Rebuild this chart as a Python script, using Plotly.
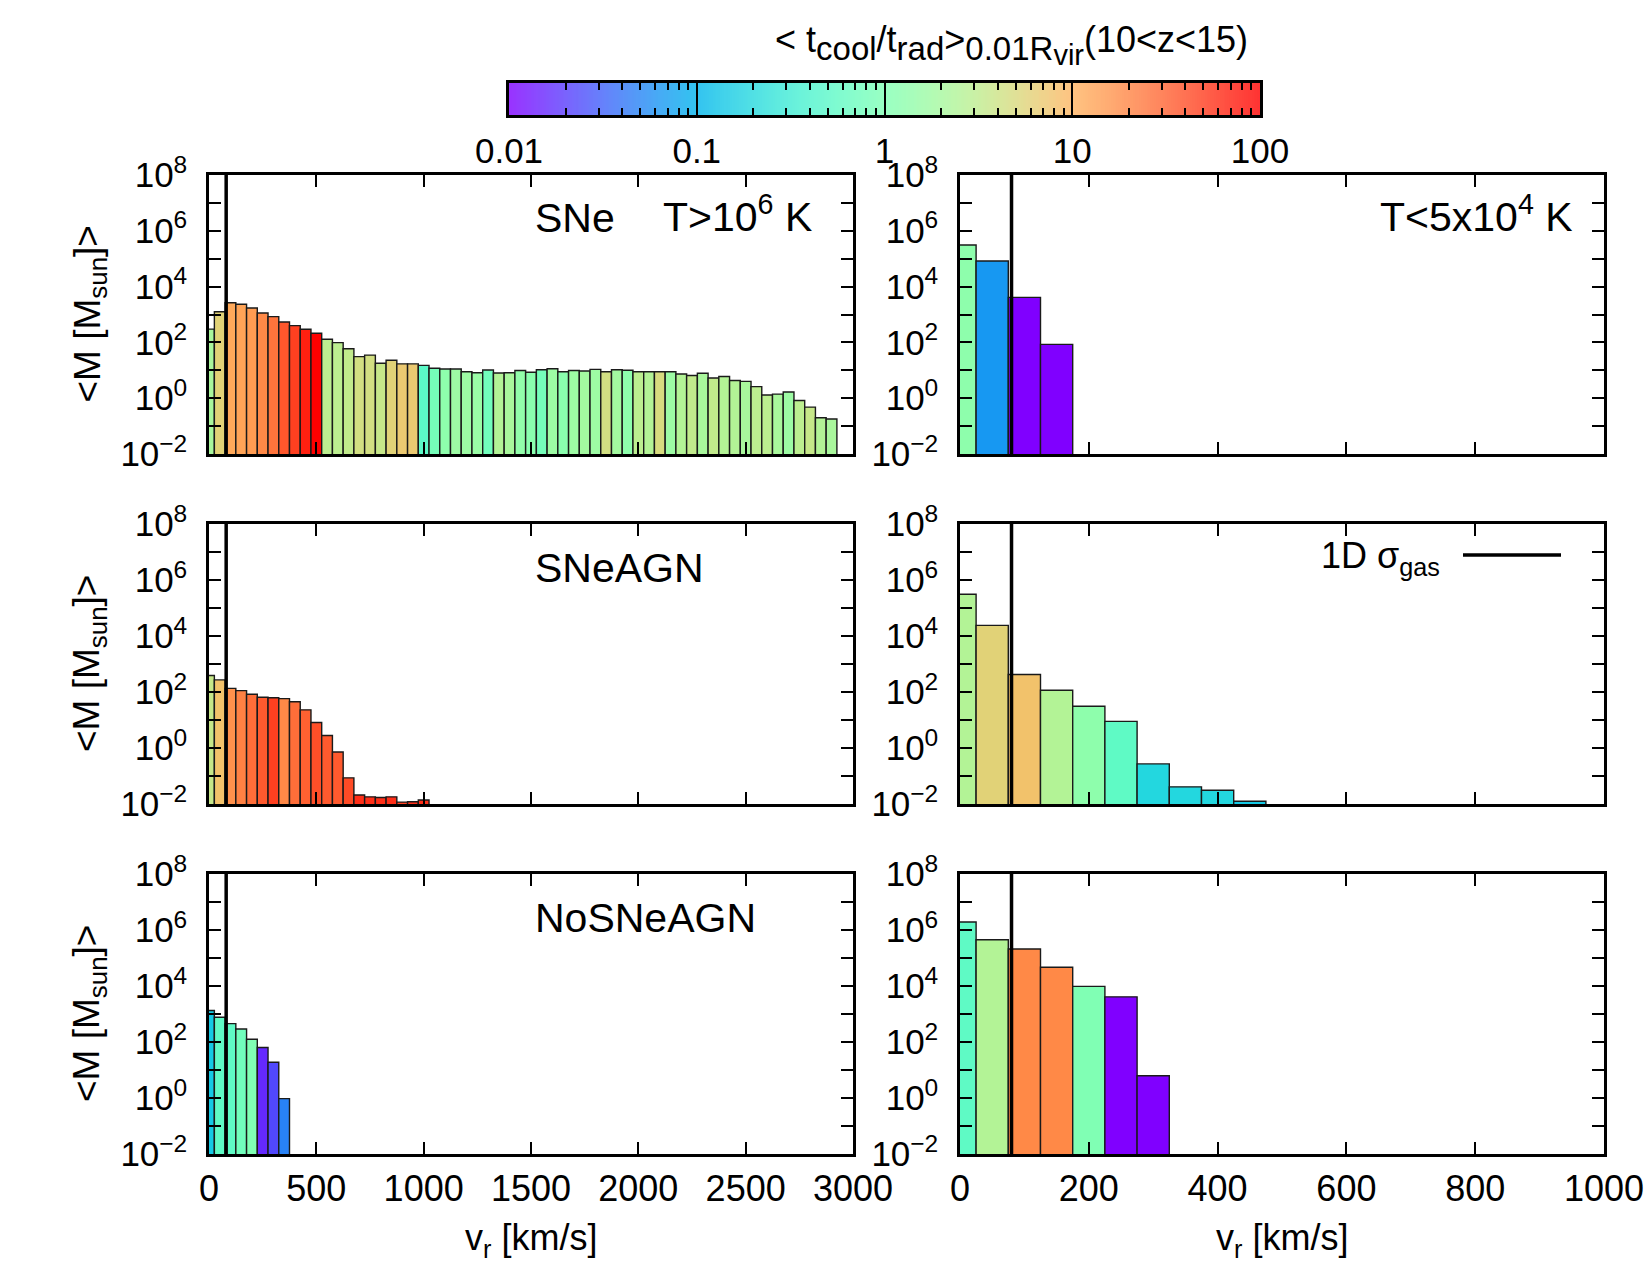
import numpy as np
import plotly.graph_objects as go

# ---------------- data ----------------
bin_width = 50.0          # km/s
sigma_gas = 80.0          # 1D gas velocity dispersion [km/s]

# <M> per v_r bin [Msun], and mean t_cool/t_rad of each bin (colour)
sne_hot_mass = [300, 1260, 2630, 2320, 1710, 1130, 840, 540, 400, 297,
                212, 130, 98, 59, 31, 35, 18, 23, 17, 17,
                15, 11.8, 11.2, 11.2, 8.9, 8.2, 10.2, 8.0, 8.2, 9.8,
                8.5, 10.5, 11.4, 8.9, 9.8, 9.4, 10.8, 8.9, 10.5, 10,
                8.9, 8.9, 8.9, 8.9, 7.4, 6.5, 7.8, 5.3, 6.0, 4.3,
                4.0, 2.6, 1.3, 1.4, 1.67, 0.83, 0.48, 0.20, 0.18]
sne_hot_ratio = [2.1, 5.8, 12, 13, 14.5, 19, 25, 36, 48, 69,
                 100, 3.0, 3.0, 3.3, 4.4, 4.4, 3.6, 5.8, 6.9, 6.9,
                 0.52, 0.83, 1.3, 1.7, 1.7, 1.6, 0.76, 2.5, 2.1, 1.4,
                 1.2, 0.83, 1.7, 1.2, 1.7, 1.9, 1.7, 4.4, 1.9, 1.3,
                 3.0, 2.5, 4.8, 1.7, 2.5, 3.3, 2.1, 3.3, 2.5, 2.5,
                 2.1, 3.0, 3.0, 2.1, 1.7, 3.0, 3.6, 2.5, 2.1]

sne_cold_mass = [3.1e5, 8.3e4, 4.1e3, 85]
sne_cold_ratio = [1.3, 0.065, 0.01, 0.01]

sneagn_hot_mass = [390, 270, 135, 112, 83, 65, 62, 58, 45, 23,
                   8.1, 2.8, 0.72, 0.086, 0.021, 0.018, 0.017, 0.018, 0.0117, 0.012, 0.0139]
sneagn_hot_ratio = [3.6, 7.9, 17, 21, 27, 35, 48, 19, 27, 32,
                    40, 35, 35, 42, 58, 58, 58, 58, 48, 58, 58]

sneagn_cold_mass = [3.1e5, 2.4e4, 420, 115, 31, 8.9, 0.27, 0.041, 0.031, 0.0126]
sneagn_cold_ratio = [2.5, 5.8, 7.9, 2.5, 1.3, 0.56, 0.19, 0.19, 0.19, 0.145]

nosneagn_hot_mass = [1340, 770, 455, 293, 125, 64, 19, 0.95]
nosneagn_hot_ratio = [0.145, 0.56, 0.56, 0.76, 1.0, 0.016, 0.023, 0.048]

nosneagn_cold_mass = [1.94e6, 4.5e5, 2.1e5, 4.7e4, 9.7e3, 4.1e3, 6.2]
nosneagn_cold_ratio = [0.56, 2.5, 19, 19, 1.0, 0.01, 0.01]

run_labels = ["SNe", "SNeAGN", "NoSNeAGN"]
y_tick_exponents = list(range(-2, 9))
left_x_ticks = [0, 500, 1000, 1500, 2000, 2500, 3000]
right_x_ticks = [0, 200, 400, 600, 800, 1000]
cb_major = [0.01, 0.1, 1, 10, 100]
cb_major_labels = ["0.01", "0.1", "1", "10", "100"]

# ---------------- styling ----------------
FONT = "Liberation Sans, Arial, Helvetica, sans-serif"
W, H = 1650, 1275


def rainbow(x):
    r = abs(2 * x - 0.5)
    g = np.sin(np.pi * x)
    b = np.cos(np.pi * x / 2)
    return "rgb(%d,%d,%d)" % (min(255, round(255 * r)), round(255 * max(g, 0)), round(255 * max(b, 0)))


cscale = [[s, rainbow(s)] for s in np.linspace(0, 1, 41)]

xdom = {"L": [209 / W, 853 / W], "R": [960 / W, 1604 / W]}
ydom = [[1 - 454 / H, 1 - 175 / H], [1 - 804 / H, 1 - 524 / H], [1 - 1154 / H, 1 - 874 / H]]

panels = [
    (0, "L", sne_hot_mass, sne_hot_ratio, 3000, left_x_ticks),
    (0, "R", sne_cold_mass, sne_cold_ratio, 1000, right_x_ticks),
    (1, "L", sneagn_hot_mass, sneagn_hot_ratio, 3000, left_x_ticks),
    (1, "R", sneagn_cold_mass, sneagn_cold_ratio, 1000, right_x_ticks),
    (2, "L", nosneagn_hot_mass, nosneagn_hot_ratio, 3000, left_x_ticks),
    (2, "R", nosneagn_cold_mass, nosneagn_cold_ratio, 1000, right_x_ticks),
]

fig = go.Figure()
layout = dict(width=W, height=H, margin=dict(l=0, r=0, t=0, b=0, autoexpand=False),
              paper_bgcolor="white", plot_bgcolor="white",
              font=dict(family=FONT, color="black"), showlegend=False)

ytickvals = [10.0 ** e for e in y_tick_exponents]
yticktext = [("10<sup>%s</sup>" % (str(e).replace("-", "\u2212"))) if e % 2 == 0 else "" for e in y_tick_exponents]

shapes = []
for i, (row, col, mass, ratio, xmax, xt) in enumerate(panels):
    n = i + 1
    xa = "x" if n == 1 else "x%d" % n
    ya = "y" if n == 1 else "y%d" % n
    centers = [k * bin_width for k in range(len(mass))]
    fig.add_trace(go.Bar(
        x=centers, y=mass, width=bin_width, xaxis=xa, yaxis=ya,
        marker=dict(color=np.log10(ratio), colorscale=cscale, cmin=-2, cmax=2,
                    line=dict(color="#1a1a1a", width=1.4)),
        showlegend=False, hoverinfo="x+y"))
    key_x = "xaxis" if n == 1 else "xaxis%d" % n
    key_y = "yaxis" if n == 1 else "yaxis%d" % n
    layout[key_x] = dict(domain=xdom[col], anchor=ya, range=[0, xmax], automargin=False,
                         tickmode="array", tickvals=xt, ticktext=[str(v) for v in xt],
                         showticklabels=(row == 2), ticks="inside", ticklen=12, tickwidth=2,
                         tickcolor="black", showline=True, linecolor="black", linewidth=2.5,
                         mirror="ticks", showgrid=False, zeroline=False,
                         tickfont=dict(size=36, family=FONT), ticklabelstandoff=1)
    layout[key_y] = dict(domain=ydom[row], anchor=xa, type="log", range=[-2, 8], automargin=False,
                         tickmode="array", tickvals=ytickvals, ticktext=yticktext,
                         ticks="inside", ticklen=12, tickwidth=2, tickcolor="black",
                         showline=True, linecolor="black", linewidth=2.5, mirror="ticks",
                         showgrid=False, zeroline=False,
                         tickfont=dict(size=35, family=FONT), ticklabelstandoff=12)
    shapes.append(dict(type="line", xref=xa, yref="%s domain" % ya, x0=sigma_gas, x1=sigma_gas,
                       y0=0, y1=1, line=dict(color="black", width=3.5), layer="above"))

# colour bar drawn as a heatmap strip on its own axes
cb_x = np.linspace(-2, 2, 401)
fig.add_trace(go.Heatmap(x=cb_x, y=[0], z=[cb_x], colorscale=cscale, zmin=-2, zmax=2,
                         showscale=False, opacity=0.8, xaxis="x7", yaxis="y7", hoverinfo="skip"))
minor_vals = [np.log10(m * 10.0 ** d) for d in range(-2, 2) for m in range(2, 10)]
layout["xaxis7"] = dict(domain=[509 / W, 1260 / W], anchor="y7", range=[-2, 2], automargin=False,
                        tickmode="array", tickvals=list(np.log10(cb_major)), ticktext=cb_major_labels,
                        ticks="inside", ticklen=16, tickwidth=2, tickcolor="black",
                        minor=dict(tickmode="array", tickvals=minor_vals, ticks="inside",
                                   ticklen=7, tickwidth=1.5, tickcolor="black", showgrid=False),
                        showline=True, linecolor="black", linewidth=2.5, mirror="ticks",
                        showgrid=False, zeroline=False, side="bottom",
                        tickfont=dict(size=35, family=FONT), ticklabelstandoff=3)
layout["yaxis7"] = dict(domain=[1 - 115 / H, 1 - 83 / H], anchor="x7", range=[-0.5, 0.5],
                        automargin=False,
                        showticklabels=False, ticks="", showline=True, linecolor="black",
                        linewidth=2.5, mirror=True, showgrid=False, zeroline=False)

# legend sample for sigma line
shapes.append(dict(type="line", xref="paper", yref="paper", x0=1463 / W, x1=1561 / W,
                   y0=1 - 555 / H, y1=1 - 555 / H, line=dict(color="black", width=3.5)))
layout["shapes"] = shapes

ann = []
def add_text(text, xpx, ypx, size, xanchor="left", yanchor="middle", angle=0):
    ann.append(dict(text=text, x=xpx / W, y=1 - ypx / H, xref="paper", yref="paper",
                    xanchor=xanchor, yanchor=yanchor, showarrow=False, textangle=angle,
                    font=dict(size=size, family=FONT, color="black")))

add_text(run_labels[0], 533, 218, 41)
add_text("T&gt;10<sup>6</sup> K", 661, 214, 41)
add_text("T&lt;5x10<sup>4</sup> K", 1378, 214, 41)
add_text(run_labels[1], 533, 568, 41)
add_text(run_labels[2], 533, 918, 41)
add_text("1D \u03c3<sub>gas</sub>", 1442, 558, 36, xanchor="right")
for yc in [314.5, 664, 1014]:
    add_text("&lt;M [M<sub>sun</sub>]&gt;", 89, yc, 37, xanchor="center", angle=-90)
add_text("v<sub>r</sub> [km/s]", 531, 1240, 36, xanchor="center")
add_text("v<sub>r</sub> [km/s]", 1282, 1240, 36, xanchor="center")
add_text("&lt; t<sub><span style='font-size:33px'>cool</span></sub>/t<sub><span style='font-size:33px'>rad</span></sub>&gt;"
         "<sub><span style='font-size:33px'>0.01R</span><sub><span style='font-size:29px'>vir</span></sub></sub>(10&lt;z&lt;15)",
         1250, 45, 36, xanchor="right")
layout["annotations"] = ann

fig.update_layout(**layout)
fig.write_html("out.html")
